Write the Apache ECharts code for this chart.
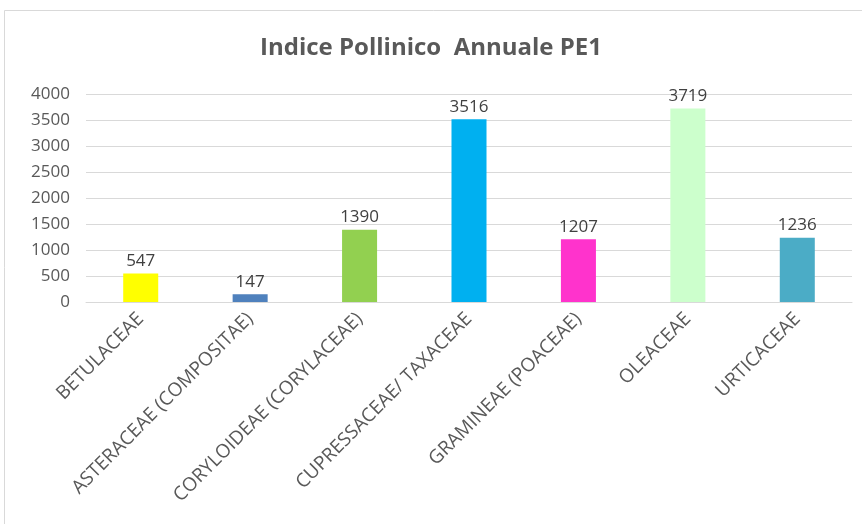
<!DOCTYPE html>
<html>
<head>
<meta charset="utf-8">
<script src="https://cdn.jsdelivr.net/npm/echarts@6/dist/echarts.min.js"></script>
<style>
  html, body { margin: 0; padding: 0; background: #fff; }
  #main { width: 862px; height: 524px; }
</style>
</head>
<body>
<div id="main"></div>
<script>
var categories = ['BETULACEAE', 'ASTERACEAE (COMPOSITAE)', 'CORYLOIDEAE (CORYLACEAE)',
  'CUPRESSACEAE/ TAXACEAE', 'GRAMINEAE (POACEAE)', 'OLEACEAE', 'URTICACEAE'];
var values = [547, 147, 1390, 3516, 1207, 3719, 1236];
var barColors = ['#FFFF00', '#4F81BD', '#92D050', '#00B0F0', '#FF33CC', '#CCFFCC', '#4BACC6'];

var myChart = echarts.init(document.getElementById('main'));

var option = {
    backgroundColor: '#fff',
    textStyle: { fontFamily: 'Open Sans, sans-serif' },
    title: {
        text: 'Indice Pollinico  Annuale PE1',
        left: 'center',
        top: 31,
        textStyle: { color: '#595959', fontSize: 24, fontWeight: 'bold', fontFamily: 'Open Sans' }
    },
    graphic: [{
        type: 'rect',
        shape: { x: 4.5, y: 10.5, width: 900, height: 600 },
        style: { fill: 'none', stroke: '#d9d9d9', lineWidth: 1 },
        silent: true
    }],
    grid: { left: 86, right: 10, top: 94, bottom: 222 },
    xAxis: {
        type: 'category',
        data: categories,
        axisTick: { show: false },
        axisLine: { lineStyle: { color: '#d9d9d9' } },
        axisLabel: {
            rotate: 45,
            interval: 0,
            color: '#595959',
            fontSize: 19,
            margin: 14
        }
    },
    yAxis: {
        type: 'value',
        min: 0,
        max: 4000,
        interval: 500,
        axisLine: { show: false },
        axisTick: { show: false },
        splitLine: { lineStyle: { color: '#d9d9d9' } },
        axisLabel: {
            color: '#595959',
            fontSize: 17,
            margin: 16,
            formatter: function (v) { return String(v); }
        }
    },
    series: [{
        type: 'bar',
        barWidth: '32%',
        data: values.map(function (v, i) {
            return { value: v, itemStyle: { color: barColors[i] } };
        }),
        label: {
            show: true,
            position: 'top',
            color: '#404040',
            fontSize: 17,
            distance: 4
        }
    }]
};

myChart.setOption(option);
</script>
</body>
</html>
